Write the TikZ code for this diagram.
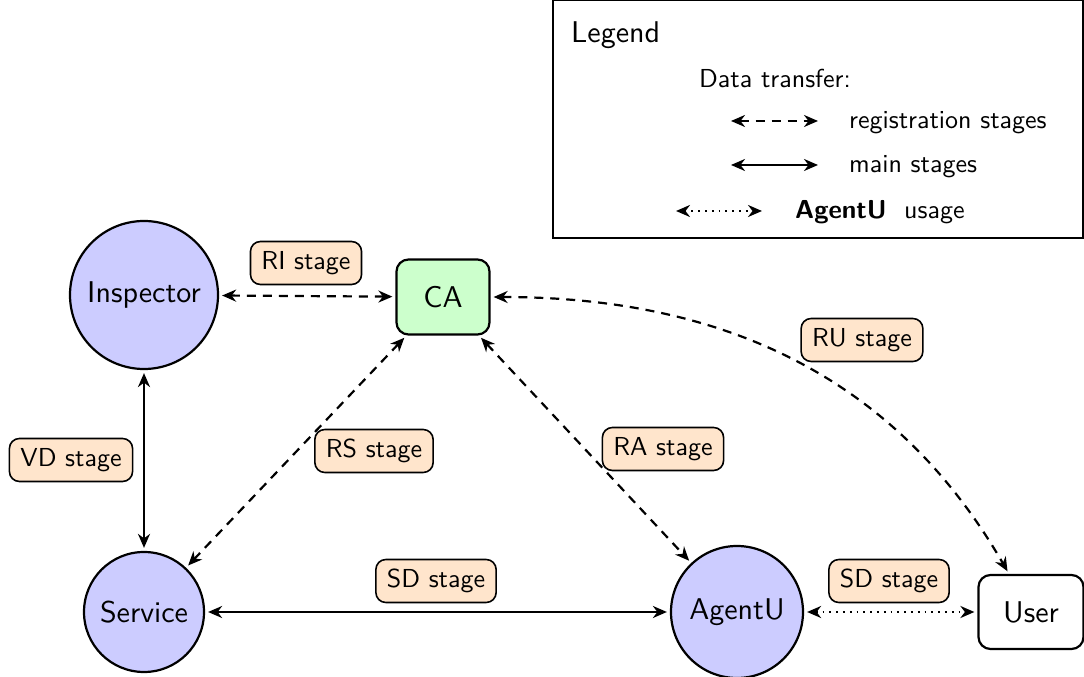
\documentclass[tikz,border=0pt]{standalone}
\usepackage{fontspec}
\setsansfont{lmsans10-regular.otf}[BoldFont=lmsans10-bold.otf]
\usetikzlibrary{arrows.meta}
\begin{document}
\begin{tikzpicture}[x=1pt,y=1pt,font=\sffamily,
  circnode/.style={circle,draw,line width=2.2pt,fill=blue!20,minimum size=#1,inner sep=0pt,font=\sffamily\fontsize{30}{36}\selectfont},
  boxnode/.style={draw,line width=2.2pt,rounded corners=12pt,minimum width=#1,minimum height=75pt,inner sep=0pt,font=\sffamily\fontsize{30}{36}\selectfont},
  lbl/.style={draw,line width=1.6pt,rounded corners=10pt,fill=orange!20,minimum height=43pt,inner xsep=11pt,inner ysep=0pt,font=\sffamily\fontsize{26}{30}\selectfont},
  txt/.style={inner sep=0pt,anchor=base west,font=\sffamily\fontsize{26}{30}\selectfont},
  tip/.tip={Stealth[length=14pt,width=12pt,inset=4.5pt]},
  conn/.style={line width=2.2pt,tip-tip,shorten >=3pt,shorten <=3pt},
  regarr/.style={conn,dash pattern=on 9pt off 7pt},
  mainarr/.style={conn},
  usearr/.style={conn,dash pattern=on 1.8pt off 5pt}
]
\useasboundingbox (0,0) rectangle (1084,677);

% legend
\draw[line width=1.3pt] (553,439) rectangle (1083,676.5);
\node[txt,font=\sffamily\fontsize{30}{36}\selectfont] (lg) at (571,634) {Legend};
\node[txt] (dt) at (699,589) {Data transfer:};
\coordinate (l1a) at (731,556); \coordinate (l1b) at (818,556);
\coordinate (l2a) at (731,512); \coordinate (l2b) at (818,512);
\coordinate (l3a) at (676,466); \coordinate (l3b) at (762,466);
\draw[regarr,shorten >=0pt,shorten <=0pt] (l1a) -- (l1b);
\draw[mainarr,shorten >=0pt,shorten <=0pt] (l2a) -- (l2b);
\draw[usearr,shorten >=0pt,shorten <=0pt] (l3a) -- (l3b);
\node[txt] (t1) at (849,548) {registration stages};
\node[txt] (t2) at (849,504) {main stages};
\node[txt] (t3) at (795,458) {\textbf{AgentU}\ \ usage};

% main nodes
\node[circnode=148pt] (insp) at (144,382) {Inspector};
\node[boxnode=93pt,fill=green!20] (ca) at (443,380) {CA};
\node[circnode=120pt] (serv) at (144,65) {Service};
\node[circnode=132pt] (agent) at (737,65) {AgentU};
\node[boxnode=105pt,fill=white,minimum height=74pt] (user) at (1031,65) {User};

% connectors
\draw[regarr] (insp) -- (ca);
\draw[mainarr] (insp) -- (serv);
\draw[regarr] (ca) -- (serv);
\draw[regarr] (ca) -- (agent);
\draw[mainarr] (serv) -- (agent);
\draw[usearr] (agent) -- (user);
\draw[regarr] (ca) to[out=0,in=120] (user);

% labels
\node[lbl] (lri) at (306,414) {RI stage};
\node[lbl] (lru) at (862,337) {RU stage};
\node[lbl] (lvd) at (71,217) {VD stage};
\node[lbl] (lrs) at (374,226) {RS stage};
\node[lbl] (lra) at (663,228) {RA stage};
\node[lbl] (lsd1) at (436,96) {SD stage};
\node[lbl] (lsd2) at (889,96) {SD stage};
\end{tikzpicture}
\end{document}
